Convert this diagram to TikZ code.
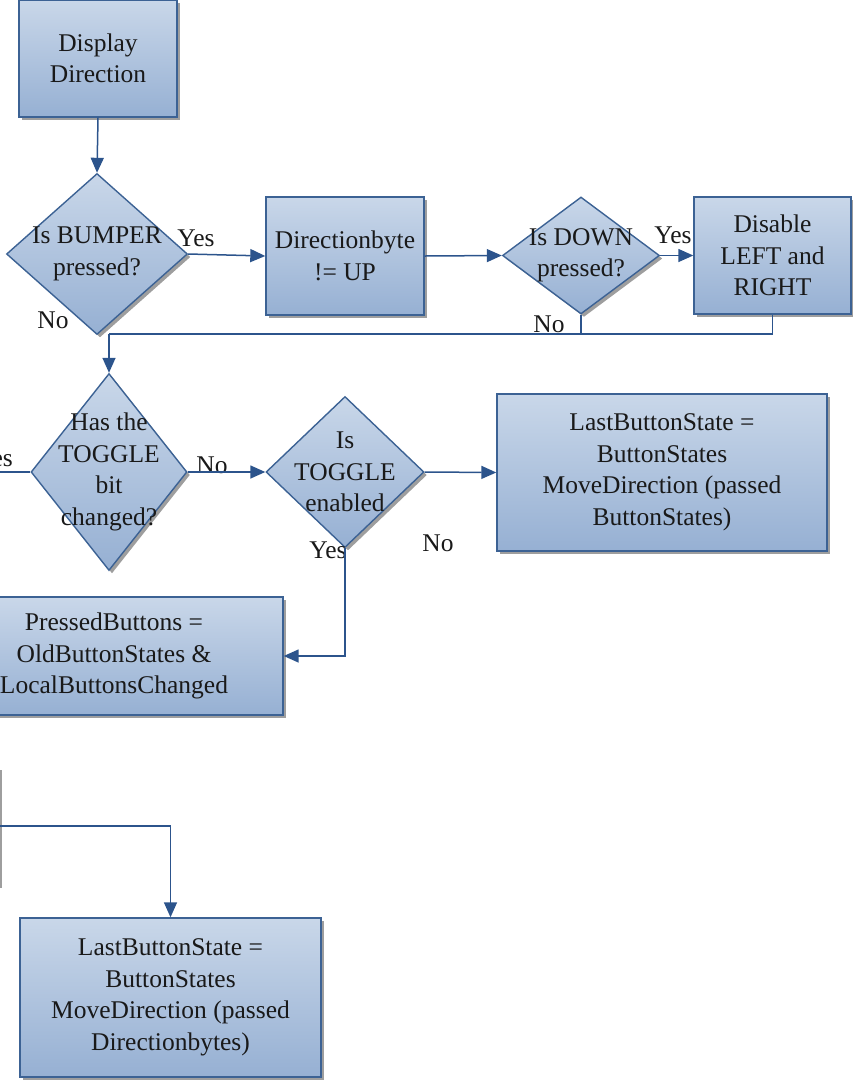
\documentclass[tikz,border=0pt]{standalone}
\usepackage{fontspec}
\setmainfont{Liberation Serif}
\newfontfamily\flowfont{Liberation Serif}
\usetikzlibrary{arrows.meta,shadows,shapes.geometric}
\definecolor{boxtop}{RGB}{201,215,233}
\definecolor{boxbot}{RGB}{150,176,211}
\definecolor{edge}{RGB}{60,98,148}
\definecolor{flow}{RGB}{44,84,140}
\definecolor{ink}{RGB}{25,25,25}
\begin{document}
\begin{tikzpicture}[x=1pt,y=-1pt,
  txt/.style={font=\flowfont\fontsize{25.5}{31.5}\selectfont, text=ink, align=center, inner sep=0pt},
  shade/.style={general shadow={fill=black!38, shadow xshift=3pt, shadow yshift=-3pt}},
  procbox/.style={draw=edge, line width=1.4pt, top color=boxtop, bottom color=boxbot,
    shade, inner sep=0pt, txt},
  decision/.style={shape=diamond, draw=edge, line width=1.4pt, top color=boxtop,
    bottom color=boxbot, shade, inner sep=0pt},
  conn/.style={draw=flow, line width=1.5pt},
  arr/.style={conn, -{Triangle[length=15pt,width=13pt]}},
  lbl/.style={txt}]
\useasboundingbox (0,0) rectangle (853,1080);
\clip (0,0) rectangle (853,1080);

% process boxes
\node[procbox, minimum width=158pt, minimum height=117pt] (disp) at (98,58.5) {Display\\Direction};
\node[procbox, minimum width=158pt, minimum height=118pt] (dbyte) at (345,256) {Directionbyte\\!= UP};
\node[procbox, minimum width=157pt, minimum height=117pt] (disable) at (772.5,255.5) {Disable\\LEFT and\\RIGHT};
\node[procbox, minimum width=330pt, minimum height=157pt] (last1) at (662,472.5) {LastButtonState =\\ButtonStates\\MoveDirection (passed\\ButtonStates)};
\node[procbox, minimum width=338pt, minimum height=118pt] (pressed) at (114,656) {PressedButtons =\\OldButtonStates \&\\LocalButtonsChanged};
\node[procbox, minimum width=159pt, minimum height=118pt] (offbox) at (-80.5,826) {};
\node[procbox, minimum width=301pt, minimum height=159pt] (last2) at (170.5,997.5) {LastButtonState =\\ButtonStates\\MoveDirection (passed\\Directionbytes)};

% decisions
\node[decision, minimum width=181pt, minimum height=161pt] (d1) at (97,254) {};
\node[txt] (d1t) at (d1.center) {Is BUMPER\\pressed?};
\node[decision, minimum width=157pt, minimum height=117pt] (d2) at (581,255.5) {};
\node[txt] (d2t) at (d2.center) {Is DOWN\\pressed?};
\node[decision, minimum width=156pt, minimum height=197pt] (d3) at (109,472) {};
\node[txt] (d3t) at (d3.center) {Has the\\TOGGLE\\bit\\changed?};
\node[decision, minimum width=158pt, minimum height=151pt] (d4) at (345,472) {};
\node[txt] (d4t) at (d4.center) {Is\\TOGGLE\\enabled};

% branch labels
\node[lbl] (y1) at (196,238) {Yes};
\node[lbl] (n1) at (53,320) {No};
\node[lbl] (y2) at (673,235) {Yes};
\node[lbl] (n2) at (549,324) {No};
\node[lbl, anchor=east] (y3) at (13,458) {Yes};
\node[lbl] (n3) at (212,465) {No};
\node[lbl] (n4) at (438,543) {No};
\node[lbl] (y4) at (328,550) {Yes};

% connectors
\coordinate (join) at (109,334);
\coordinate (yesend) at (-40,472);
\draw[arr] (disp.south) -- (d1.north);
\draw[arr] (d1.east) -- (dbyte.west);
\draw[arr] (dbyte.east) -- (d2.west);
\draw[arr] (d2.east) -- (disable.west);
\draw[conn] (disable.south) |- (join);
\draw[conn] (d2.south) -- (d2.south |- join);
\draw[arr] (join) -- (d3.north);
\draw[conn] (d3.west) -- (yesend);
\draw[arr] (d3.east) -- (d4.west);
\draw[arr] (d4.east) -- (last1.west);
\draw[arr] (d4.south) |- (pressed.east);
\draw[arr] (offbox.east) -| (last2.north);
\end{tikzpicture}
\end{document}
